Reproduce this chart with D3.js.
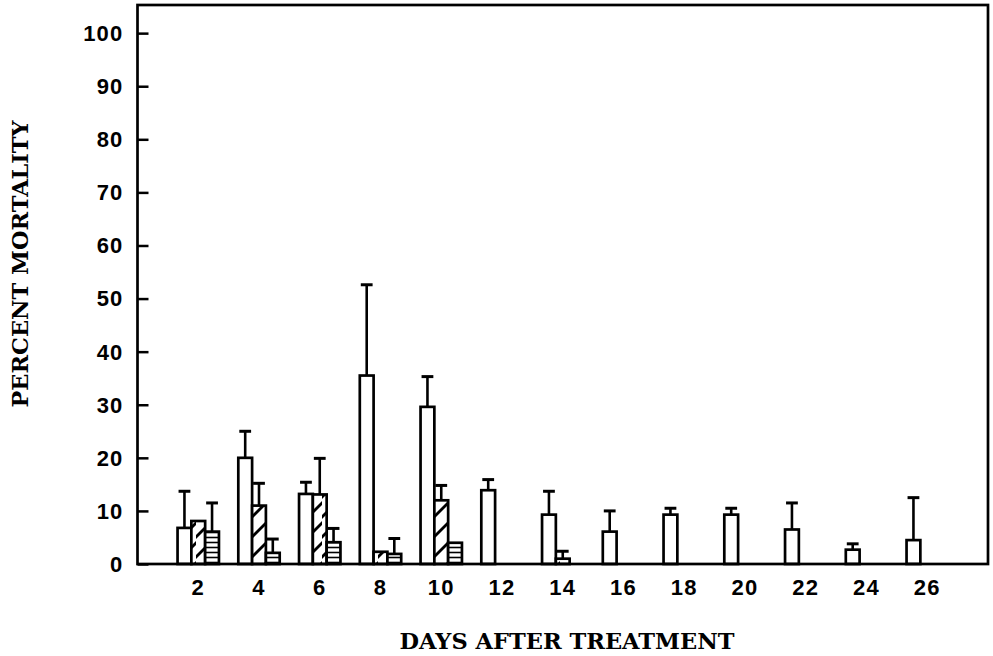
<!DOCTYPE html>
<html><head><meta charset="utf-8">
<script src="https://cdn.jsdelivr.net/npm/d3@7"></script>
<style>body{margin:0;background:#fff}svg{display:block}</style>
</head><body>
<script>
// ---- data ----
const days = [2,4,6,8,10,12,14,16,18,20,22,24,26];
const series = ["open","hatched","striped"];
const openVals    = [6.8, 20.0, 13.2, 35.5, 29.6, 13.9, 9.3, 6.1, 9.3, 9.3, 6.5, 2.7, 4.5];
const openErr     = [13.7, 25.0, 15.4, 52.6, 35.3, 15.9, 13.7, 10.0, 10.5, 10.5, 11.5, 3.8, 12.5];
const hatchedVals = [8.1, 11.0, 13.1, 2.3, 12.0, null, 1.0, null, null, null, null, null, null];
const hatchedErr  = [null, 15.2, 19.9, null, 14.8, null, 2.4, null, null, null, null, null, null];
const stripedVals = [6.1, 2.1, 4.1, 1.9, 4.0, null, null, null, null, null, null, null, null];
const stripedErr  = [11.5, 4.7, 6.7, 4.8, null, null, null, null, null, null, null, null, null];
const yTicks = [0,10,20,30,40,50,60,70,80,90,100];
const xTitle = "DAYS AFTER TREATMENT";
const yTitle = "PERCENT MORTALITY";

const W = 993, H = 656;
const svg = d3.select("body").append("svg").attr("width", W).attr("height", H);

const x = d3.scaleLinear().domain([0, 28]).range([137.5, 988]);
const y = d3.scaleLinear().domain([0, 105.3]).range([564, 5]);
const slot = d3.scaleBand().domain(series).range([-20.7, 20.7]);

const defs = svg.append("defs");
const ph = defs.append("pattern").attr("id","hatch").attr("patternUnits","userSpaceOnUse")
  .attr("width", 14).attr("height", 20);
ph.append("rect").attr("width",14).attr("height",20).attr("fill","#fff");
ph.append("path").attr("d","M-2,19 L16,1").attr("stroke","#000").attr("stroke-width",2.8);
const ps = defs.append("pattern").attr("id","stripe").attr("patternUnits","userSpaceOnUse")
  .attr("width", 14).attr("height", 5);
ps.append("rect").attr("width",14).attr("height",5).attr("fill","#fff");
ps.append("path").attr("d","M0,2.5 L14,2.5").attr("stroke","#000").attr("stroke-width",1.6);

const fills = {open:"#fff", hatched:"url(#hatch)", striped:"url(#stripe)"};
const vals = {open:openVals, hatched:hatchedVals, striped:stripedVals};
const errs = {open:openErr, hatched:hatchedErr, striped:stripedErr};

const rows = [];
series.forEach(s => days.forEach((d,i) => {
  if (vals[s][i] != null) rows.push({s, d, v: vals[s][i], e: errs[s][i]});
}));

const g = svg.append("g");
const eb = g.selectAll("g.err").data(rows.filter(r => r.e != null)).join("g");
eb.append("line")
  .attr("x1", r => x(r.d) + slot(r.s) + slot.bandwidth()/2)
  .attr("x2", r => x(r.d) + slot(r.s) + slot.bandwidth()/2)
  .attr("y1", r => y(r.v)).attr("y2", r => y(r.e))
  .attr("stroke","#000").attr("stroke-width",2.6);
eb.append("line")
  .attr("x1", r => x(r.d) + slot(r.s) + 1)
  .attr("x2", r => x(r.d) + slot(r.s) + slot.bandwidth() - 1)
  .attr("y1", r => y(r.e)).attr("y2", r => y(r.e))
  .attr("stroke","#000").attr("stroke-width",3);

g.selectAll("rect.bar").data(rows).join("rect")
  .attr("x", r => x(r.d) + slot(r.s))
  .attr("width", slot.bandwidth())
  .attr("y", r => y(r.v))
  .attr("height", r => y(0) - y(r.v))
  .attr("fill", r => fills[r.s])
  .attr("stroke","#000").attr("stroke-width",2.7);

// frame
svg.append("rect").attr("x", x(0)).attr("y", y(105.3))
  .attr("width", x(28) - x(0)).attr("height", y(0) - y(105.3))
  .attr("fill","none").attr("stroke","#000").attr("stroke-width",2.7);

// y axis
const yAx = svg.append("g").attr("transform", `translate(${x(0)},0)`)
  .call(d3.axisRight(y).tickValues(yTicks).tickSize(11).tickFormat(""));
yAx.select(".domain").remove();
yAx.selectAll("line").attr("stroke","#000").attr("stroke-width",2.5);
svg.append("g").selectAll("text").data(yTicks).join("text")
  .attr("x", x(0) - 14).attr("y", d => y(d)).attr("dy","0.36em")
  .attr("text-anchor","end")
  .attr("font-family","'Liberation Sans', Arial, sans-serif").attr("font-weight","bold")
  .attr("font-size", 22).attr("letter-spacing", 1.2).text(d => d);

// x tick labels
svg.append("g").selectAll("text").data(days).join("text")
  .attr("x", d => x(d)).attr("y", 595)
  .attr("text-anchor","middle")
  .attr("font-family","'Liberation Sans', Arial, sans-serif").attr("font-weight","bold")
  .attr("font-size", 22).attr("letter-spacing", 1.2).text(d => d);

// titles
svg.append("text").attr("x", 567).attr("y", 649).attr("text-anchor","middle")
  .attr("font-family","'DejaVu Serif', serif").attr("font-weight","bold")
  .attr("font-size", 22).attr("textLength", 335).attr("lengthAdjust","spacingAndGlyphs")
  .text(xTitle);
svg.append("text").attr("transform","translate(28,264) rotate(-90)").attr("text-anchor","middle")
  .attr("font-family","'DejaVu Serif', serif").attr("font-weight","bold")
  .attr("font-size", 22).attr("textLength", 287).attr("lengthAdjust","spacingAndGlyphs")
  .text(yTitle);
</script>
</body></html>
